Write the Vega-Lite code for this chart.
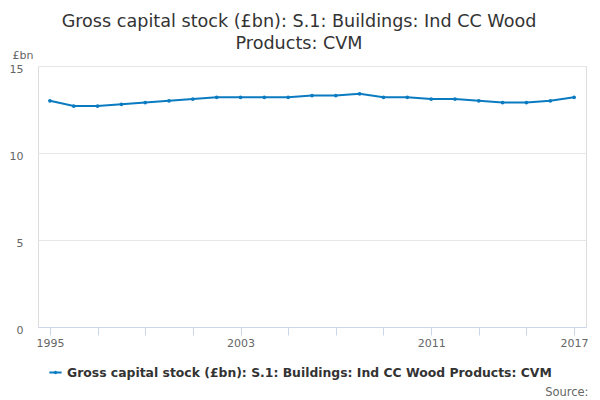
{
  "$schema": "https://vega.github.io/schema/vega-lite/v6.json",
  "width": 548,
  "height": 261,
  "autosize": {"type": "none"},
  "padding": {"left": 38, "top": 66, "right": 14, "bottom": 73},
  "background": "white",
  "title": {
    "text": ["Gross capital stock (£bn): S.1: Buildings: Ind CC Wood", "Products: CVM"],
    "anchor": "middle",
    "frame": "group",
    "dx": -13,
    "offset": -4,
    "font": "DejaVu Sans",
    "fontSize": 17.6,
    "fontWeight": "normal",
    "color": "#333333",
    "lineHeight": 22
  },
  "data": {
    "values": [
      {"year": 1995, "value": 13.0, "series": "Gross capital stock (£bn): S.1: Buildings: Ind CC Wood Products: CVM"},
      {"year": 1996, "value": 12.7, "series": "Gross capital stock (£bn): S.1: Buildings: Ind CC Wood Products: CVM"},
      {"year": 1997, "value": 12.7, "series": "Gross capital stock (£bn): S.1: Buildings: Ind CC Wood Products: CVM"},
      {"year": 1998, "value": 12.8, "series": "Gross capital stock (£bn): S.1: Buildings: Ind CC Wood Products: CVM"},
      {"year": 1999, "value": 12.9, "series": "Gross capital stock (£bn): S.1: Buildings: Ind CC Wood Products: CVM"},
      {"year": 2000, "value": 13.0, "series": "Gross capital stock (£bn): S.1: Buildings: Ind CC Wood Products: CVM"},
      {"year": 2001, "value": 13.1, "series": "Gross capital stock (£bn): S.1: Buildings: Ind CC Wood Products: CVM"},
      {"year": 2002, "value": 13.2, "series": "Gross capital stock (£bn): S.1: Buildings: Ind CC Wood Products: CVM"},
      {"year": 2003, "value": 13.2, "series": "Gross capital stock (£bn): S.1: Buildings: Ind CC Wood Products: CVM"},
      {"year": 2004, "value": 13.2, "series": "Gross capital stock (£bn): S.1: Buildings: Ind CC Wood Products: CVM"},
      {"year": 2005, "value": 13.2, "series": "Gross capital stock (£bn): S.1: Buildings: Ind CC Wood Products: CVM"},
      {"year": 2006, "value": 13.3, "series": "Gross capital stock (£bn): S.1: Buildings: Ind CC Wood Products: CVM"},
      {"year": 2007, "value": 13.3, "series": "Gross capital stock (£bn): S.1: Buildings: Ind CC Wood Products: CVM"},
      {"year": 2008, "value": 13.4, "series": "Gross capital stock (£bn): S.1: Buildings: Ind CC Wood Products: CVM"},
      {"year": 2009, "value": 13.2, "series": "Gross capital stock (£bn): S.1: Buildings: Ind CC Wood Products: CVM"},
      {"year": 2010, "value": 13.2, "series": "Gross capital stock (£bn): S.1: Buildings: Ind CC Wood Products: CVM"},
      {"year": 2011, "value": 13.1, "series": "Gross capital stock (£bn): S.1: Buildings: Ind CC Wood Products: CVM"},
      {"year": 2012, "value": 13.1, "series": "Gross capital stock (£bn): S.1: Buildings: Ind CC Wood Products: CVM"},
      {"year": 2013, "value": 13.0, "series": "Gross capital stock (£bn): S.1: Buildings: Ind CC Wood Products: CVM"},
      {"year": 2014, "value": 12.9, "series": "Gross capital stock (£bn): S.1: Buildings: Ind CC Wood Products: CVM"},
      {"year": 2015, "value": 12.9, "series": "Gross capital stock (£bn): S.1: Buildings: Ind CC Wood Products: CVM"},
      {"year": 2016, "value": 13.0, "series": "Gross capital stock (£bn): S.1: Buildings: Ind CC Wood Products: CVM"},
      {"year": 2017, "value": 13.2, "series": "Gross capital stock (£bn): S.1: Buildings: Ind CC Wood Products: CVM"}
    ]
  },
  "mark": {
    "type": "line",
    "strokeWidth": 2,
    "point": {"filled": true, "size": 14}
  },
  "encoding": {
    "x": {
      "field": "year",
      "type": "quantitative",
      "scale": {"domain": [1994.5, 2017.5], "nice": false, "zero": false},
      "axis": {
        "values": [1995, 1997, 1999, 2001, 2003, 2005, 2007, 2009, 2011, 2013, 2015, 2017],
        "labelExpr": "indexof([1995, 2003, 2011, 2017], datum.value) >= 0 ? datum.value : ''",
        "format": "d",
        "grid": false,
        "domainColor": "#ccd6eb",
        "tickColor": "#ccd6eb",
        "tickSize": 8,
        "labelFont": "DejaVu Sans",
        "labelFontSize": 11,
        "labelColor": "#666666",
        "labelPadding": 2,
        "labelFlush": false,
        "title": "Source:",
        "titleFont": "DejaVu Sans",
        "titleFontSize": 11.5,
        "titleFontWeight": "normal",
        "titleColor": "#666666",
        "titleAnchor": "end",
        "titleAlign": "right",
        "titleBaseline": "alphabetic",
        "titleX": 550,
        "titleY": 68
      }
    },
    "y": {
      "field": "value",
      "type": "quantitative",
      "scale": {"domain": [0, 15], "nice": false},
      "axis": {
        "values": [0, 5, 10, 15],
        "domain": false,
        "ticks": false,
        "gridColor": "#e6e6e6",
        "labelFont": "DejaVu Sans",
        "labelFontSize": 11,
        "labelColor": "#666666",
        "labelPadding": 15,
        "labelAlign": "right",
        "labelOffset": 3,
        "title": "£bn",
        "titleAngle": 0,
        "titleFont": "DejaVu Sans",
        "titleFontSize": 11,
        "titleFontWeight": "normal",
        "titleColor": "#666666",
        "titleAlign": "left",
        "titleBaseline": "alphabetic",
        "titleX": -26,
        "titleY": -8
      }
    },
    "color": {
      "field": "series",
      "type": "nominal",
      "scale": {"range": ["#0b7bc1"]},
      "legend": {
        "orient": "none",
        "direction": "horizontal",
        "legendX": 10,
        "legendY": 299,
        "title": null,
        "symbolType": "M-1,0L1,0M-0.12,0A0.12,0.12,0,1,0,0.12,0A0.12,0.12,0,1,0,-0.12,0",
        "symbolStrokeWidth": 2,
        "symbolSize": 150,
        "labelFont": "DejaVu Sans",
        "labelFontSize": 12.4,
        "labelFontWeight": "bold",
        "labelColor": "#333333",
        "labelLimit": 600
      }
    }
  }
}
